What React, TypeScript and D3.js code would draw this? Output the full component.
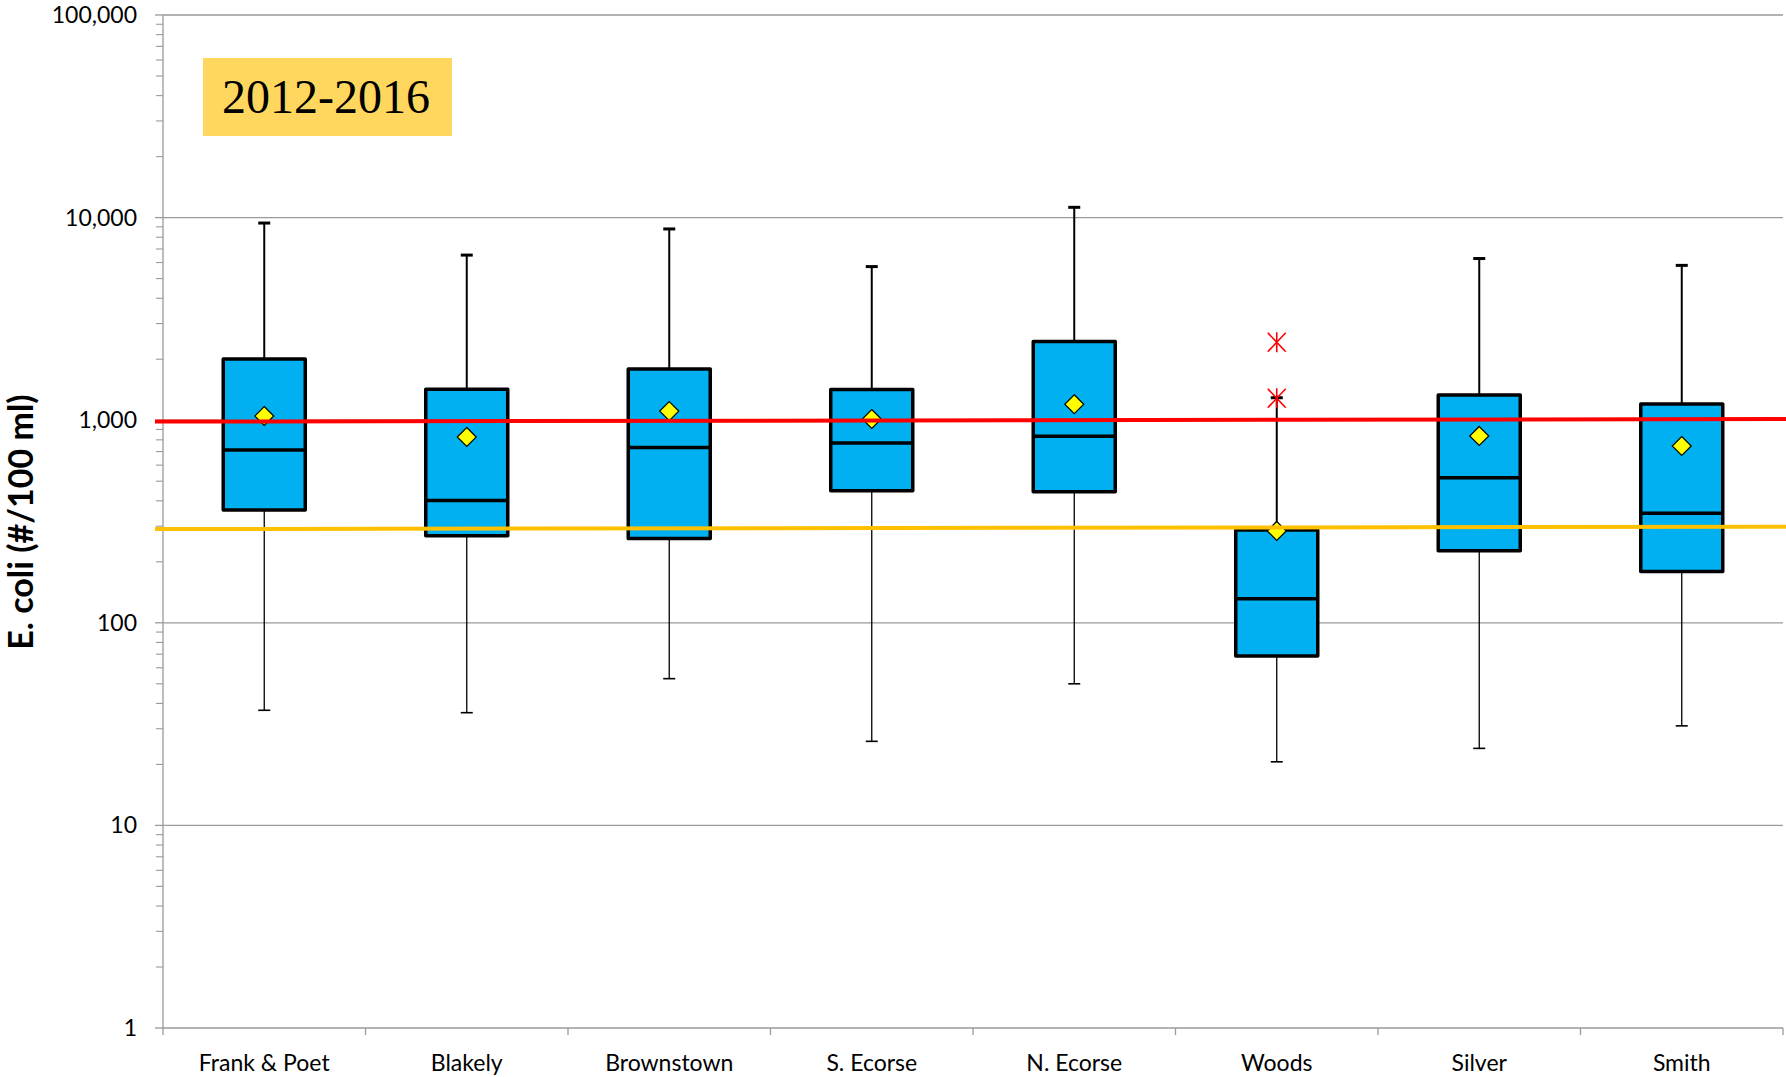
import React from "react";
import * as d3 from "d3";

// Sampling sites along the river
const sites = ["Frank & Poet", "Blakely", "Brownstown", "S. Ecorse", "N. Ecorse", "Woods", "Silver", "Smith"];

// Box-plot statistics, E. coli (#/100 ml)
const whiskerLow = [37, 36, 53, 26, 50, 20.6, 24, 31];
const q1 = [360, 269, 261, 448, 443, 68.6, 227, 179];
const median = [713, 401, 733, 772, 834, 131.5, 520, 347];
const q3 = [2005, 1420, 1790, 1418, 2443, 287, 1331, 1202];
const whiskerHigh = [9400, 6530, 8790, 5730, 11240, 1291, 6280, 5810];
const means = [1049, 826, 1109, 1014, 1199, 284, 836, 746];

// Outlying samples (site index, value)
const outlierSite = [5, 5];
const outlierValue = [2425, 1283];

// Reference criteria lines: value at left end, value at right end
const singleSampleLine = [984, 1014];
const geoMeanLine = [290, 298];

const yTicks = [1, 10, 100, 1000, 10000, 100000];
const periodLabel = "2012-2016";

const W = 1786;
const H = 1077;
const left = 163;
const right = 1783;
const top = 15;
const bottom = 1028;

const FONT = "Lato, 'Open Sans', sans-serif";

export default function App() {
  const x = d3.scaleBand<string>().domain(sites).range([left, right]).paddingInner(0).paddingOuter(0);
  const y = d3.scaleLog().domain([1, 100000]).range([bottom, top]);
  const bw = x.bandwidth();
  const boxW = bw * 0.405;
  const capW = 12;
  const fmt = d3.format(",");

  const minor: number[] = [];
  for (let dec = 1; dec < 100000; dec *= 10) {
    for (let k = 2; k <= 9; k++) minor.push(dec * k);
  }

  const cx = (i: number) => (x(sites[i]) as number) + bw / 2;

  const diamond = (px: number, py: number, r: number) =>
    `M${px},${py - r}L${px + r},${py}L${px},${py + r}L${px - r},${py}Z`;

  const lineGen = d3
    .line<number>()
    .x((_, i) => (i === 0 ? left - 8 : W))
    .y((v) => y(v));

  return (
    <svg
      width={W}
      height={H}
      style={{ position: "absolute", left: 0, top: 0, background: "#fff" }}
      fontFamily={FONT}
    >
      {/* gridlines */}
      {yTicks.slice(1).map((t) => (
        <line key={"g" + t} x1={left} x2={right} y1={y(t)} y2={y(t)} stroke="#9a9a9a" strokeWidth={1.3} />
      ))}
      {/* y axis */}
      <line x1={left} x2={left} y1={top} y2={bottom} stroke="#9a9a9a" strokeWidth={1.3} />
      {yTicks.map((t) => (
        <line key={"t" + t} x1={left - 8} x2={left} y1={y(t)} y2={y(t)} stroke="#9a9a9a" strokeWidth={1.3} />
      ))}
      {minor.map((t) => (
        <line key={"m" + t} x1={left - 7} x2={left} y1={y(t)} y2={y(t)} stroke="#9a9a9a" strokeWidth={1.1} />
      ))}
      {yTicks.map((t) => (
        <text key={"l" + t} x={137} y={y(t)} dy="0.35em" textAnchor="end" fontSize={23} fill="#000">
          {fmt(t)}
        </text>
      ))}
      {/* x axis */}
      <line x1={left} x2={right} y1={bottom} y2={bottom} stroke="#9a9a9a" strokeWidth={1.3} />
      {sites.map((s) => (
        <line key={"xt" + s} x1={x(s) as number} x2={x(s) as number} y1={bottom} y2={bottom + 7} stroke="#9a9a9a" strokeWidth={1.3} />
      ))}
      <line x1={right} x2={right} y1={bottom} y2={bottom + 7} stroke="#9a9a9a" strokeWidth={1.3} />
      {sites.map((s, i) => (
        <text key={"xl" + s} x={cx(i)} y={1071} textAnchor="middle" fontSize={23} fill="#000">
          {s}
        </text>
      ))}

      {/* y axis title */}
      <text
        transform="translate(33,522) rotate(-90)"
        textAnchor="middle"
        fontSize={34}
        fontWeight="bold"
        fill="#000"
      >
        E. coli (#/100 ml)
      </text>

      {/* whiskers */}
      {sites.map((s, i) => (
        <g key={"w" + s}>
          <line x1={cx(i)} x2={cx(i)} y1={y(whiskerHigh[i])} y2={y(q3[i])} stroke="#000" strokeWidth={2} />
          <line x1={cx(i) - capW / 2} x2={cx(i) + capW / 2} y1={y(whiskerHigh[i])} y2={y(whiskerHigh[i])} stroke="#000" strokeWidth={3} />
          <line x1={cx(i)} x2={cx(i)} y1={y(q1[i])} y2={y(whiskerLow[i])} stroke="#000" strokeWidth={1.3} />
          <line x1={cx(i) - capW / 2} x2={cx(i) + capW / 2} y1={y(whiskerLow[i])} y2={y(whiskerLow[i])} stroke="#000" strokeWidth={1.6} />
        </g>
      ))}

      {/* boxes */}
      {sites.map((s, i) => (
        <g key={"b" + s}>
          <rect
            x={cx(i) - boxW / 2}
            y={y(q3[i])}
            width={boxW}
            height={y(q1[i]) - y(q3[i])}
            fill="#00B0F0"
            stroke="#000"
            strokeWidth={3.5}
            strokeLinejoin="round"
          />
          <line x1={cx(i) - boxW / 2} x2={cx(i) + boxW / 2} y1={y(median[i])} y2={y(median[i])} stroke="#000" strokeWidth={3.5} />
        </g>
      ))}

      {/* outliers */}
      {outlierValue.map((v, k) => {
        const px = cx(outlierSite[k]);
        const py = y(v);
        return (
          <g key={"o" + k} stroke="#ff0000" strokeWidth={1.6}>
            <line x1={px} x2={px} y1={py - 10} y2={py + 10} />
            <line x1={px - 9} x2={px + 9} y1={py - 9.5} y2={py + 9.5} />
            <line x1={px - 9} x2={px + 9} y1={py + 9.5} y2={py - 9.5} />
          </g>
        );
      })}

      {/* means */}
      {sites.map((s, i) => (
        <path key={"mn" + s} d={diamond(cx(i), y(means[i]), 9.5)} fill="#FFFF00" stroke="#000" strokeWidth={1.2} />
      ))}

      {/* criteria lines */}
      <path d={lineGen(geoMeanLine) as string} stroke="#FFC000" strokeWidth={4} fill="none" />
      <path d={lineGen(singleSampleLine) as string} stroke="#FF0000" strokeWidth={4} fill="none" />

      {/* period label */}
      <rect x={203} y={58} width={249} height={78} fill="#FFD75E" />
      <text x={326} y={113} textAnchor="middle" fontSize={48} fontFamily="'Liberation Serif', 'DejaVu Serif', serif" fill="#000">
        {periodLabel}
      </text>
    </svg>
  );
}
